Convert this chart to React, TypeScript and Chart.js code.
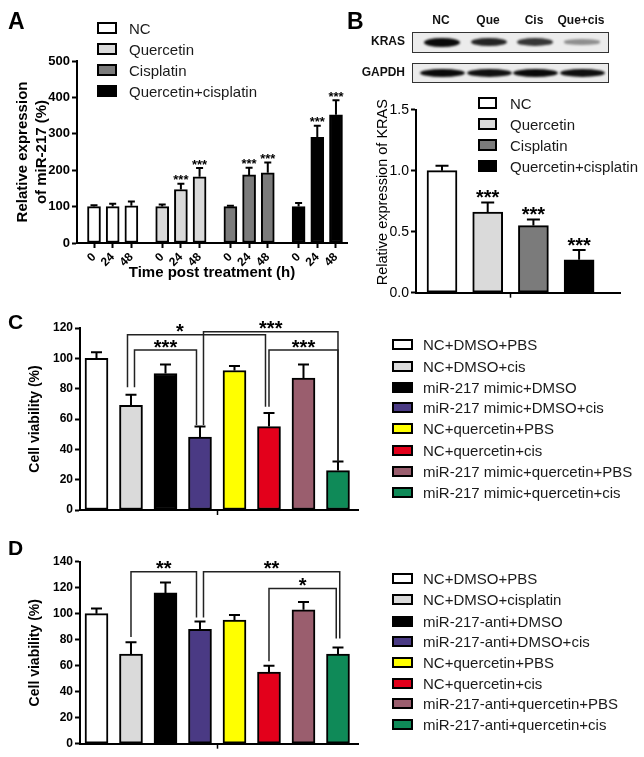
import React, { useEffect, useRef } from 'react';
import { Chart, registerables } from 'chart.js';

Chart.register(...registerables);

const FONT = 'Arial, "Liberation Sans", Helvetica, sans-serif';
Chart.defaults.font.family = FONT;
Chart.defaults.color = '#000';

const PAGE_W = 644;
const PAGE_H = 757;

// ================= Panel A data =================
const aSeriesNames = ['NC', 'Quercetin', 'Cisplatin', 'Quercetin+cisplatin'];
const aTimePoints = ['0', '24', '48'];
const aNC = [100, 100, 102];
const aQuercetin = [100, 147, 182];
const aCisplatin = [100, 187, 193];
const aQuercetinCisplatin = [100, 290, 352];
const aNCErr = [4, 8, 12];
const aQuercetinErr = [6, 16, 24];
const aCisplatinErr = [2, 20, 28];
const aQuercetinCisplatinErr = [10, 32, 40];
const aNCSig = ['', '', ''];
const aQuercetinSig = ['', '***', '***'];
const aCisplatinSig = ['', '***', '***'];
const aQuercetinCisplatinSig = ['', '***', '***'];
const aYMax = 500;
const aYStep = 100;

// ================= Panel B data =================
const bSeriesNames = ['NC', 'Quercetin', 'Cisplatin', 'Quercetin+cisplatin'];
const bValues = [1.0, 0.66, 0.55, 0.27];
const bErrors = [0.04, 0.08, 0.05, 0.08];
const bSig = ['', '***', '***', '***'];
const bYMax = 1.5;
const bYStep = 0.5;
const bYTitle = 'Relative expression of KRAS';
const blotLanes = ['NC', 'Que', 'Cis', 'Que+cis'];
const blotProteins = ['KRAS', 'GAPDH'];
const krasBandIntensity = [1.0, 0.85, 0.75, 0.22];
const gapdhBandIntensity = [1.0, 0.97, 1.0, 0.98];

// ================= Panel C data =================
const cLabels = [
  'NC+DMSO+PBS',
  'NC+DMSO+cis',
  'miR-217 mimic+DMSO',
  'miR-217 mimic+DMSO+cis',
  'NC+quercetin+PBS',
  'NC+quercetin+cis',
  'miR-217 mimic+quercetin+PBS',
  'miR-217 mimic+quercetin+cis',
];
const cValues = [100, 69, 90, 48, 92, 55, 87, 26];
const cErrors = [4, 7, 6, 7, 3, 9, 9, 6];
const cYMax = 120;
const cYStep = 20;
// brackets: bar indices, bracket level, leg end values, significance label
const cBrackets = [
  { from: 1, to: 5, fromSide: -1, toSide: -1, level: 115.5, fromEnd: 81, toEnd: 68, label: '*', labelAt: 2.42 },
  { from: 1, to: 3, fromSide: 1, toSide: -1, level: 105.5, fromEnd: 81, toEnd: 56, label: '***' },
  { from: 3, to: 7, fromSide: 1, toSide: 0, level: 117.5, fromEnd: 56, toEnd: 32, label: '***' },
  { from: 5, to: 7, fromSide: 0, toSide: 0, level: 105.5, fromEnd: 68, toEnd: 32, label: '***' },
];

// ================= Panel D data =================
const dLabels = [
  'NC+DMSO+PBS',
  'NC+DMSO+cisplatin',
  'miR-217-anti+DMSO',
  'miR-217-anti+DMSO+cis',
  'NC+quercetin+PBS',
  'NC+quercetin+cis',
  'miR-217-anti+quercetin+PBS',
  'miR-217-anti+quercetin+cis',
];
const dValues = [100, 69, 116, 88, 95, 55, 103, 69];
const dErrors = [4, 9, 8, 6, 4, 5, 6, 5];
const dYMax = 140;
const dYStep = 20;
const dBrackets = [
  { from: 1, to: 3, fromSide: 0, toSide: -1, level: 132.3, fromEnd: 82, toEnd: 97, label: '**' },
  { from: 3, to: 7, fromSide: 1, toSide: 0.5, level: 132.3, fromEnd: 97, toEnd: 81, label: '**' },
  { from: 5, to: 7, fromSide: 0, toSide: -0.5, level: 119.3, fromEnd: 63.4, toEnd: 81, label: '*' },
];

// ================= Styles =================
const grayColors = ['#ffffff', '#dadada', '#7b7b7b', '#000000'];
const viabilityColors = ['#ffffff', '#dadada', '#000000', '#4a3a84', '#ffff00', '#e3001b', '#9a5e6e', '#0f8a58'];

// ================= Helpers =================
type Area = { left: number; top: number; right: number; bottom: number };

function padFor(area: Area, yW: number, xH: number) {
  return { left: area.left - yW, top: area.top, right: PAGE_W - area.right, bottom: PAGE_H - area.bottom - xH };
}

function drawSig(ctx: CanvasRenderingContext2D, text: string, x: number, cy: number, size: number) {
  ctx.save();
  ctx.font = `bold ${size}px ${FONT}`;
  ctx.fillStyle = '#000';
  ctx.textAlign = 'center';
  ctx.textBaseline = 'alphabetic';
  ctx.fillText(text, x, cy + size * 0.58);
  ctx.restore();
}

function errorBarPlugin(o: { cap: number; lw: number; starSize: number; starGap: number }) {
  return {
    id: 'errorBars',
    afterDatasetsDraw(chart: any) {
      const ctx = chart.ctx as CanvasRenderingContext2D;
      const ys = chart.scales.y;
      chart.data.datasets.forEach((ds: any, di: number) => {
        const meta = chart.getDatasetMeta(di);
        meta.data.forEach((bar: any, j: number) => {
          const v = ds.data[j].y;
          const e = ds.errors ? ds.errors[j] : 0;
          const top = ys.getPixelForValue(v + e);
          ctx.save();
          ctx.strokeStyle = '#000';
          ctx.lineWidth = o.lw;
          ctx.beginPath();
          ctx.moveTo(bar.x, bar.y);
          ctx.lineTo(bar.x, top);
          ctx.moveTo(bar.x - o.cap / 2, top);
          ctx.lineTo(bar.x + o.cap / 2, top);
          ctx.stroke();
          ctx.restore();
          const s = ds.sig ? ds.sig[j] : '';
          if (s) drawSig(ctx, s, bar.x, top - o.starGap, o.starSize);
        });
      });
    },
  };
}

// y-axis title drawn beside the axis at a chosen offset from the plot centre
function sideTitlePlugin(text: string, o: { x: number; shiftY: number; size: number }) {
  return {
    id: 'sideTitle',
    afterDraw(chart: any) {
      const ctx = chart.ctx as CanvasRenderingContext2D;
      const a = chart.chartArea;
      ctx.save();
      ctx.translate(o.x, (a.top + a.bottom) / 2 + o.shiftY);
      ctx.rotate(-Math.PI / 2);
      ctx.font = `${o.size}px ${FONT}`;
      ctx.fillStyle = '#000';
      ctx.textAlign = 'center';
      ctx.textBaseline = 'middle';
      ctx.fillText(text, 0, 0);
      ctx.restore();
    },
  };
}

type Bracket = { from: number; to: number; fromSide: number; toSide: number; level: number; fromEnd: number; toEnd: number; label: string; labelAt?: number };

function bracketPlugin(items: Bracket[], o: { legOffset: number; lw: number; labelSize: number; labelGap: number }) {
  return {
    id: 'brackets',
    afterDatasetsDraw(chart: any) {
      const ctx = chart.ctx as CanvasRenderingContext2D;
      const xs = chart.scales.x;
      const ys = chart.scales.y;
      items.forEach((b) => {
        const x1 = xs.getPixelForValue(b.from) + b.fromSide * o.legOffset;
        const x2 = xs.getPixelForValue(b.to) + b.toSide * o.legOffset;
        const yl = ys.getPixelForValue(b.level);
        ctx.save();
        ctx.strokeStyle = '#222';
        ctx.lineWidth = o.lw;
        ctx.beginPath();
        ctx.moveTo(x1, ys.getPixelForValue(b.fromEnd));
        ctx.lineTo(x1, yl);
        ctx.lineTo(x2, yl);
        ctx.lineTo(x2, ys.getPixelForValue(b.toEnd));
        ctx.stroke();
        ctx.restore();
        const lx = b.labelAt !== undefined ? xs.getPixelForValue(b.labelAt) : (x1 + x2) / 2;
        drawSig(ctx, b.label, lx, yl - o.labelGap, o.labelSize);
      });
    },
  };
}

function yAxis(o: {
  max: number; step: number; tickSize: number; tickBold: boolean; fmt?: (v: number) => string;
  title?: string | string[]; titleSize?: number; titleBold?: boolean; titleLH?: number; titlePad?: number; width: number;
}) {
  return {
    type: 'linear',
    min: 0,
    max: o.max,
    ticks: {
      stepSize: o.step,
      color: '#000',
      padding: 2,
      font: { size: o.tickSize, weight: o.tickBold ? 'bold' : 'normal' },
      callback: (v: any) => (o.fmt ? o.fmt(Number(v)) : String(v)),
    },
    grid: { display: true, drawOnChartArea: false, drawTicks: true, tickLength: 5, tickWidth: 2, tickColor: '#000', color: '#000' },
    border: { display: true, color: '#000', width: 2 },
    title: {
      display: !!o.title,
      text: o.title || '',
      color: '#000',
      font: { size: o.titleSize || 14, weight: o.titleBold ? 'bold' : 'normal', lineHeight: `${o.titleLH || 17}px` },
      padding: { top: o.titlePad || 0, bottom: 0 },
    },
    afterFit: (s: any) => { s.width = o.width; },
  };
}

function centerTickXAxis(min: number, max: number, center: number, height: number) {
  return {
    type: 'linear',
    min,
    max,
    offset: false,
    afterBuildTicks: (s: any) => { s.ticks = [{ value: center }]; },
    ticks: { display: false },
    grid: { display: true, drawOnChartArea: false, drawTicks: true, tickLength: 5, tickWidth: 1.5, tickColor: '#000', offset: false },
    border: { display: true, color: '#000', width: 2 },
    afterFit: (s: any) => { s.height = height; },
  };
}

const basePlugins = { legend: { display: false }, tooltip: { enabled: false }, title: { display: false } };

// ================= Chart builders =================
const GROUP_STEP = 3.65;

function buildA(canvas: HTMLCanvasElement) {
  const values = [aNC, aQuercetin, aCisplatin, aQuercetinCisplatin];
  const errs = [aNCErr, aQuercetinErr, aCisplatinErr, aQuercetinCisplatinErr];
  const sigs = [aNCSig, aQuercetinSig, aCisplatinSig, aQuercetinCisplatinSig];
  const tickPos: number[] = [];
  const tickLab: string[] = [];
  aSeriesNames.forEach((_, g) => aTimePoints.forEach((t, i) => { tickPos.push(g * GROUP_STEP + i); tickLab.push(t); }));
  const area = { left: 77, top: 61, right: 347, bottom: 243 };
  const yW = 77, xH = 40;
  return new Chart(canvas, {
    type: 'bar',
    data: {
      datasets: aSeriesNames.map((name, g) => ({
        label: name,
        data: values[g].map((v, i) => ({ x: g * GROUP_STEP + i, y: v })),
        backgroundColor: grayColors[g],
        borderColor: '#000',
        borderWidth: 2,
        borderSkipped: false,
        barThickness: 13,
        grouped: false,
        errors: errs[g],
        sig: sigs[g],
      })) as any,
    },
    options: {
      responsive: false,
      maintainAspectRatio: false,
      animation: false,
      layout: { padding: padFor(area, yW, xH) },
      plugins: basePlugins as any,
      scales: {
        x: {
          type: 'linear',
          min: -0.91,
          max: 13.54,
          offset: false,
          afterBuildTicks: (s: any) => { s.ticks = tickPos.map((v) => ({ value: v })); },
          ticks: {
            autoSkip: false,
            minRotation: 45,
            maxRotation: 45,
            padding: 2,
            color: '#000',
            font: { size: 12, weight: 'bold' },
            callback: (_v: any, i: number) => tickLab[i],
          },
          grid: { display: true, drawOnChartArea: false, drawTicks: true, tickLength: 5, tickWidth: 2, tickColor: '#000', offset: false },
          border: { display: true, color: '#000', width: 2 },
          title: {
            display: true,
            text: 'Time post treatment (h)',
            color: '#000',
            font: { size: 15, weight: 'bold', lineHeight: '18px' },
            padding: { top: 0, bottom: 1 },
          },
          afterFit: (s: any) => { s.height = xH; },
        } as any,
        y: yAxis({
          max: aYMax, step: aYStep, tickSize: 13, tickBold: true,
          title: ['Relative expression', 'of miR-217 (%)'], titleSize: 15, titleBold: true, titleLH: 19, titlePad: 13.5, width: yW,
        }) as any,
      },
    },
    plugins: [errorBarPlugin({ cap: 7, lw: 2, starSize: 13, starGap: 7 })],
  });
}

function buildB(canvas: HTMLCanvasElement) {
  const area = { left: 416, top: 109.7, right: 620, bottom: 292.7 };
  const yW = 46, xH = 20;
  return new Chart(canvas, {
    type: 'bar',
    data: {
      datasets: [{
        label: 'KRAS',
        data: bValues.map((v, i) => ({ x: i, y: v })),
        backgroundColor: grayColors,
        borderColor: '#000',
        borderWidth: 2,
        borderSkipped: false,
        barThickness: 30,
        errors: bErrors,
        sig: bSig,
      }] as any,
    },
    options: {
      responsive: false,
      maintainAspectRatio: false,
      animation: false,
      layout: { padding: padFor(area, yW, xH) },
      plugins: basePlugins as any,
      scales: {
        x: centerTickXAxis(-0.569, 3.895, (bValues.length - 1) / 2, xH) as any,
        y: yAxis({
          max: bYMax, step: bYStep, tickSize: 14, tickBold: false, fmt: (v) => v.toFixed(1), width: yW,
        }) as any,
      },
    },
    plugins: [
      errorBarPlugin({ cap: 13, lw: 2, starSize: 20, starGap: 10 }),
      sideTitlePlugin(bYTitle, { x: 383, shiftY: -9, size: 14.5 }),
    ],
  });
}

function buildViability(canvas: HTMLCanvasElement, values: number[], errors: number[], brackets: Bracket[], area: Area, yMax: number, yStep: number, titlePad: number) {
  const yW = 80, xH = 12;
  return new Chart(canvas, {
    type: 'bar',
    data: {
      datasets: [{
        label: 'Cell viability',
        data: values.map((v, i) => ({ x: i, y: v })),
        backgroundColor: viabilityColors,
        borderColor: '#000',
        borderWidth: 2,
        borderSkipped: false,
        barThickness: 23,
        errors,
      }] as any,
    },
    options: {
      responsive: false,
      maintainAspectRatio: false,
      animation: false,
      layout: { padding: padFor(area, yW, xH) },
      plugins: basePlugins as any,
      scales: {
        x: centerTickXAxis(-0.478, 7.58, (values.length - 1) / 2, xH) as any,
        y: yAxis({
          max: yMax, step: yStep, tickSize: 12, tickBold: true,
          title: 'Cell viability (%)', titleSize: 14, titleBold: true, titleLH: 17, titlePad: titlePad, width: yW,
        }) as any,
      },
    },
    plugins: [
      errorBarPlugin({ cap: 11, lw: 2, starSize: 20, starGap: 8 }),
      bracketPlugin(brackets, { legOffset: 3.5, lw: 1.5, labelSize: 20, labelGap: 8 }),
    ],
  });
}

// ================= Components =================
function ChartLayer({ build }: { build: (c: HTMLCanvasElement) => Chart }) {
  const ref = useRef<HTMLCanvasElement>(null);
  useEffect(() => {
    const chart = build(ref.current as HTMLCanvasElement);
    return () => chart.destroy();
  }, []);
  return (
    <canvas
      ref={ref}
      width={PAGE_W}
      height={PAGE_H}
      style={{ position: 'absolute', left: 0, top: 0, width: PAGE_W, height: PAGE_H }}
    />
  );
}

function LegendItem(p: { x: number; cy: number; color: string; label: string; size: number; boxW: number; boxH: number; gap: number }) {
  return (
    <div
      style={{
        position: 'absolute', left: p.x, top: p.cy - 11, height: 22, display: 'flex', alignItems: 'center',
        whiteSpace: 'nowrap', fontFamily: FONT, fontSize: p.size, color: '#1a1a1a',
      }}
    >
      <span style={{ display: 'inline-block', width: p.boxW, height: p.boxH, boxSizing: 'border-box', border: '2px solid #000', background: p.color, marginRight: p.gap }} />
      <span>{p.label}</span>
    </div>
  );
}

function PanelLetter(p: { x: number; y: number; text: string; size: number }) {
  return (
    <div style={{ position: 'absolute', left: p.x, top: p.y, fontFamily: FONT, fontWeight: 'bold', fontSize: p.size, lineHeight: 1, color: '#000' }}>
      {p.text}
    </div>
  );
}

const laneCenters = [441, 488, 534, 581];

function Blot() {
  const rows = [
    { top: 32, height: 21, cy: 42, bands: krasBandIntensity, bw: 36, bh: 9 },
    { top: 63, height: 20, cy: 73, bands: gapdhBandIntensity, bw: 45, bh: 8 },
  ];
  return (
    <>
      {blotLanes.map((l, i) => (
        <div key={l} style={{ position: 'absolute', left: laneCenters[i] - 40, width: 80, top: 13, textAlign: 'center', fontFamily: FONT, fontWeight: 'bold', fontSize: 12, color: '#111' }}>
          {l}
        </div>
      ))}
      {blotProteins.map((p, r) => (
        <div key={p} style={{ position: 'absolute', right: PAGE_W - 405, top: rows[r].cy - 8, fontFamily: FONT, fontWeight: 'bold', fontSize: 12, color: '#111' }}>
          {p}
        </div>
      ))}
      {rows.map((row, r) => (
        <div key={r} style={{ position: 'absolute', left: 412, top: row.top, width: 197, height: row.height, boxSizing: 'border-box', border: '1.5px solid #333', background: '#ececec', overflow: 'hidden' }}>
          {row.bands.map((v, i) => {
            const h = row.bh * (0.45 + 0.55 * v);
            return (
              <div
                key={i}
                style={{
                  position: 'absolute', left: laneCenters[i] - 412 - row.bw / 2, width: row.bw,
                  top: row.cy - row.top - h / 2 - 1, height: h, borderRadius: '50%',
                  background: `rgba(10,10,10,${0.25 + 0.75 * v})`, filter: 'blur(1.2px)',
                }}
              />
            );
          })}
        </div>
      ))}
    </>
  );
}

export default function App() {
  const aRows = [28, 49, 70, 91];
  const bRows = [103, 124, 145, 166];
  const cRows = [344, 366, 387, 407, 428, 450, 471, 492];
  const dRows = [578, 599, 621, 641, 662, 683, 703, 724];
  return (
    <div style={{ position: 'fixed', left: 0, top: 0, width: PAGE_W, height: PAGE_H, background: '#fff', overflow: 'hidden' }}>
      <ChartLayer build={buildA} />
      <ChartLayer build={buildB} />
      <ChartLayer build={(c) => buildViability(c, cValues, cErrors, cBrackets, { left: 80, top: 328, right: 358, bottom: 510 }, cYMax, cYStep, 26.5)} />
      <ChartLayer build={(c) => buildViability(c, dValues, dErrors, dBrackets, { left: 80, top: 561.7, right: 358, bottom: 743.7 }, dYMax, dYStep, 27)} />

      <PanelLetter x={8} y={10} text="A" size={23} />
      <PanelLetter x={347} y={10} text="B" size={23} />
      <PanelLetter x={8} y={311} text="C" size={21} />
      <PanelLetter x={8} y={537} text="D" size={21} />

      {aSeriesNames.map((n, i) => (
        <LegendItem key={n} x={97} cy={aRows[i]} color={grayColors[i]} label={n} size={15} boxW={20} boxH={12} gap={12} />
      ))}
      {bSeriesNames.map((n, i) => (
        <LegendItem key={n} x={478} cy={bRows[i]} color={grayColors[i]} label={n} size={15} boxW={19} boxH={12} gap={13} />
      ))}
      {cLabels.map((n, i) => (
        <LegendItem key={n} x={392} cy={cRows[i]} color={viabilityColors[i]} label={n} size={15} boxW={21} boxH={11} gap={10} />
      ))}
      {dLabels.map((n, i) => (
        <LegendItem key={n} x={392} cy={dRows[i]} color={viabilityColors[i]} label={n} size={15} boxW={21} boxH={11} gap={10} />
      ))}

      <Blot />
    </div>
  );
}
